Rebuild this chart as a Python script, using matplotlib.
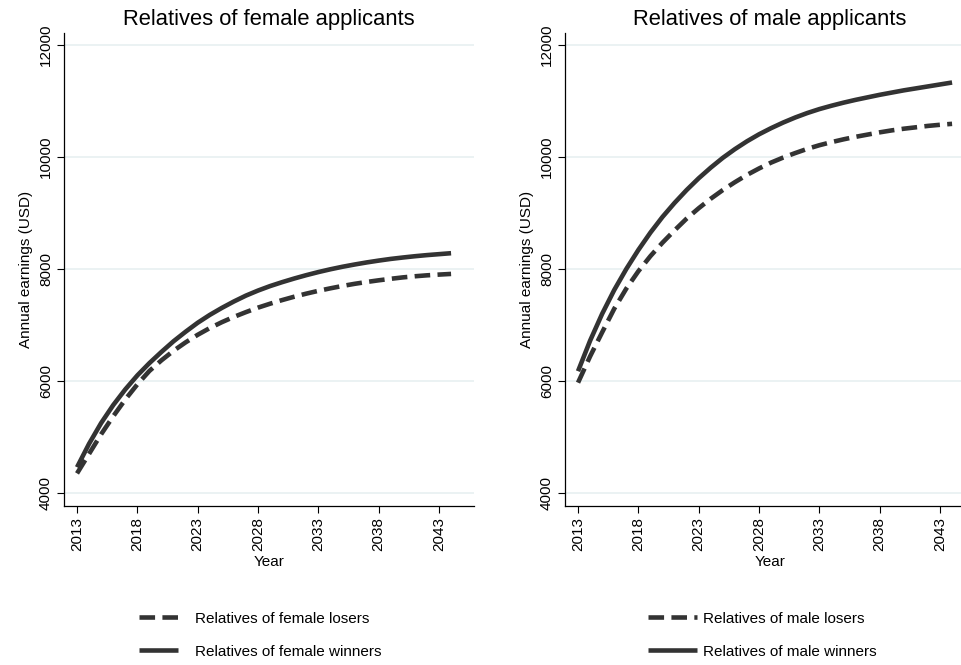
import matplotlib
matplotlib.use('Agg')
import matplotlib.pyplot as plt

plt.rcParams['font.family'] = ['Liberation Sans', 'DejaVu Sans']

# Years
years = list(range(2013, 2045))

# Relatives of female applicants
female_losers = [4350, 4700, 5050, 5370, 5670, 5940, 6180, 6370, 6540, 6690, 6825,
                 6945, 7050, 7145, 7230, 7310, 7380, 7445, 7505, 7560, 7610, 7655,
                 7697, 7735, 7768, 7798, 7825, 7850, 7870, 7887, 7900, 7912]
female_winners = [4460, 4880, 5250, 5570, 5850, 6100, 6320, 6520, 6710, 6880, 7040,
                  7180, 7305, 7420, 7525, 7615, 7695, 7765, 7830, 7890, 7945, 7995,
                  8040, 8080, 8117, 8150, 8180, 8205, 8228, 8248, 8265, 8282]

# Relatives of male applicants
male_losers = [5970, 6440, 6870, 7290, 7650, 7960, 8230, 8470, 8690, 8900, 9085,
               9255, 9410, 9550, 9680, 9795, 9900, 9990, 10070, 10145, 10210, 10265,
               10315, 10360, 10400, 10440, 10475, 10505, 10530, 10555, 10575, 10592]
male_winners = [6175, 6720, 7200, 7625, 8000, 8340, 8650, 8930, 9180, 9410, 9620,
                9810, 9985, 10140, 10280, 10405, 10515, 10615, 10705, 10785, 10855,
                10915, 10970, 11020, 11065, 11110, 11150, 11190, 11225, 11260, 11295,
                11330]

xticks = [2013, 2018, 2023, 2028, 2033, 2038, 2043]
yticks = [4000, 6000, 8000, 10000, 12000]

line_col = '#333333'
grid_col = '#e8f0f1'

fig = plt.figure(figsize=(9.61, 6.65), dpi=100)

panels = [
    ('Relatives of female applicants', female_losers, female_winners,
     'Relatives of female losers', 'Relatives of female winners', 64, 139, 2.55, 1.1),
    ('Relatives of male applicants', male_losers, male_winners,
     'Relatives of male losers', 'Relatives of male winners', 565, 648, 3.2, 0.4),
]

for title, losers, winners, lab_l, lab_w, left_px, leg_px, hlen, hpad in panels:
    ax = fig.add_axes([left_px / 961, 159 / 665, 410 / 961, 473 / 665])
    l1, = ax.plot(years, losers, color=line_col, lw=3.3,
                  linestyle=(0, (3.4, 1.6)), dash_capstyle='butt')
    l2, = ax.plot(years, winners, color=line_col, lw=3.3, solid_capstyle='butt')

    ax.set_xlim(2011.92, 2045.9)
    ax.set_ylim(3768, 12214)
    ax.set_xticks(xticks)
    ax.set_yticks(yticks)
    ax.tick_params(axis='x', labelrotation=90, labelsize=11, length=5,
                   width=0.8, direction='out', pad=3)
    ax.tick_params(axis='y', labelrotation=90, labelsize=11, length=5,
                   width=0.8, direction='out', pad=3)
    for lab in ax.get_yticklabels():
        lab.set_verticalalignment('center')

    ax.grid(axis='y', color=grid_col, lw=1.2)
    ax.set_axisbelow(True)
    for s in ['top', 'right']:
        ax.spines[s].set_visible(False)
    for s in ['left', 'bottom']:
        ax.spines[s].set_linewidth(0.9)

    ax.set_title(title, fontsize=15.8, pad=6)
    ax.set_xlabel('Year', fontsize=11, labelpad=3)
    ax.set_ylabel('Annual earnings (USD)', fontsize=11, labelpad=4)

    ax.legend([l1, l2], [lab_l, lab_w], loc='center left', frameon=False,
              bbox_to_anchor=(leg_px / 961, 0.045),
              bbox_transform=fig.transFigure, fontsize=11,
              handlelength=hlen, handletextpad=hpad, labelspacing=1.25,
              borderpad=0, borderaxespad=0)

fig.savefig('out.png', dpi=100)
